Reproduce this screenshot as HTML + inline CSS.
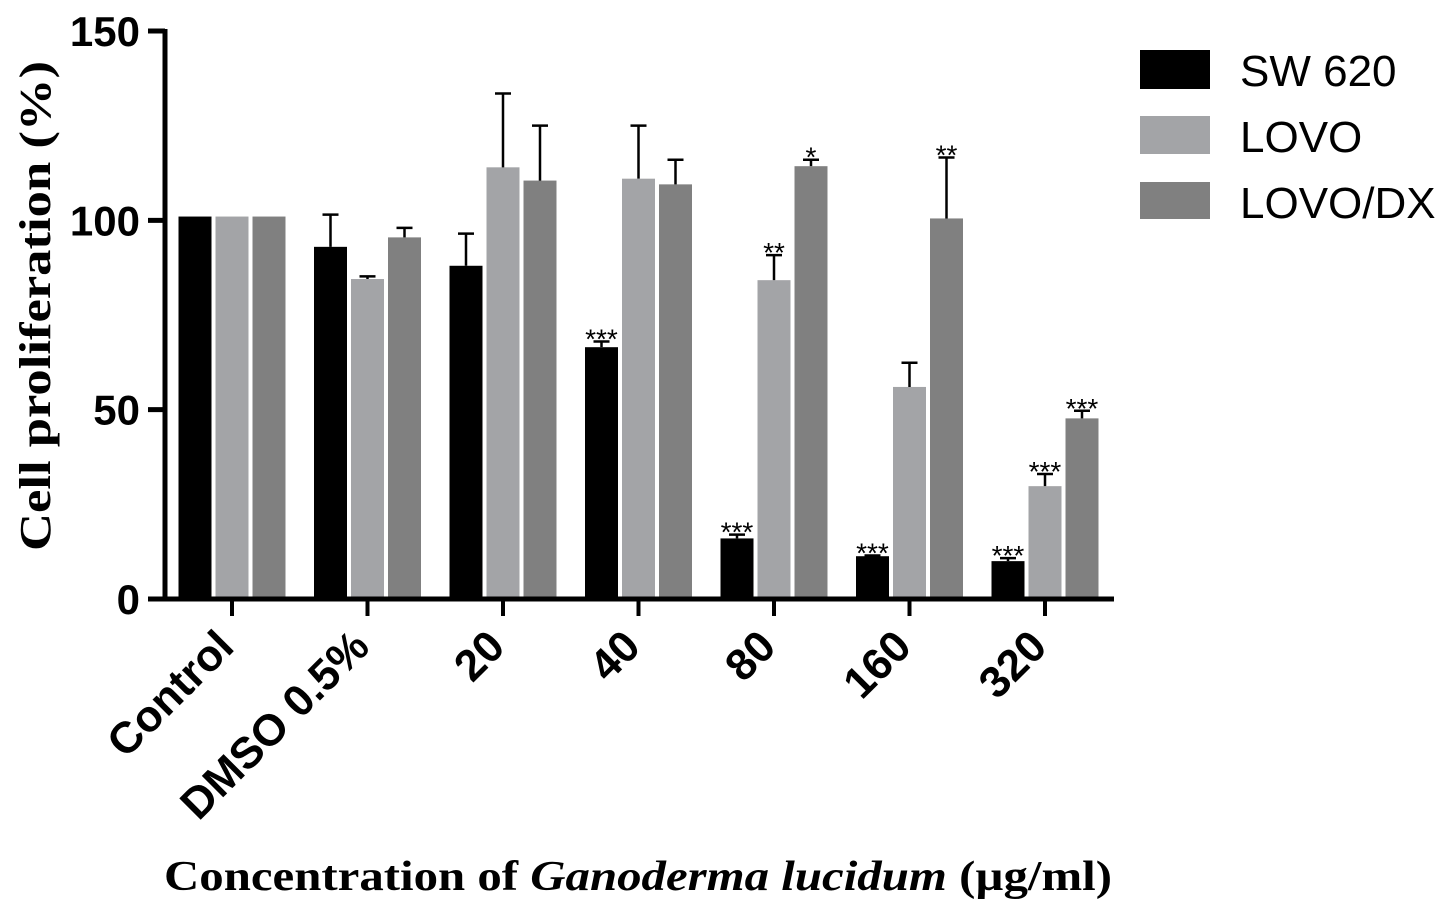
<!DOCTYPE html>
<html><head><meta charset="utf-8"><style>
body{margin:0;background:#fff;}
svg{display:block;}
</style></head><body>
<svg id="chart" width="1451" height="913" viewBox="0 0 1451 913" xmlns="http://www.w3.org/2000/svg">
<g id="bars"></g>
<g id="axes"></g>
<text transform="translate(50,306) rotate(-90)" text-anchor="middle" font-family="Liberation Serif, serif" font-weight="bold" font-size="44" textLength="490" lengthAdjust="spacingAndGlyphs">Cell proliferation (%)</text>
<text x="638" y="890" text-anchor="middle" font-family="Liberation Serif, serif" font-weight="bold" font-size="42" textLength="948" lengthAdjust="spacingAndGlyphs">Concentration of <tspan font-style="italic">Ganoderma lucidum</tspan> (µg/ml)</text>
<g>
<rect x="1140" y="50" width="70" height="39" fill="#000"/>
<text x="1240" y="86" font-family="Liberation Sans, sans-serif" font-size="44">SW 620</text>
<rect x="1140" y="116" width="70" height="38" fill="#a3a4a7"/>
<text x="1240" y="152" font-family="Liberation Sans, sans-serif" font-size="44">LOVO</text>
<rect x="1140" y="182" width="70" height="37" fill="#808080"/>
<text x="1240" y="218" font-family="Liberation Sans, sans-serif" font-size="44">LOVO/DX</text>
</g>
</svg>
<script>
const categories = ["Control","DMSO 0.5%","20","40","80","160","320"];
const sw620 = [101, 93, 88, 66.5, 16, 11.3, 10];
const sw620Err = [0, 101.5, 96.5, 68, 17, 11.5, 10.8];
const lovo = [101, 84.5, 114, 111, 84.2, 56, 29.8];
const lovoErr = [0, 85.2, 133.5, 125, 90.8, 62.4, 33];
const lovoDx = [101, 95.5, 110.5, 109.5, 114.3, 100.5, 47.7];
const lovoDxErr = [0, 98, 125, 116, 116, 116.6, 49.7];
const sw620Sig = ["","","","***","***","***","***"];
const lovoSig = ["","","","","**","","***"];
const lovoDxSig = ["","","","","*","**","***"];
const yTicks = [0, 50, 100, 150];

const NS = "http://www.w3.org/2000/svg";
const y0 = 599, yTop = 31, yMax = 150;
function yScale(v){ return y0 - v * (y0 - yTop) / yMax; }
function xCenter(i){ return 232 + i * 135.5; }
const barW = 33, step = 37;
const series = [
  {name:"sw620", vals:sw620, err:sw620Err, sig:sw620Sig, color:"#000"},
  {name:"lovo", vals:lovo, err:lovoErr, sig:lovoSig, color:"#a3a4a7"},
  {name:"lovo-dx", vals:lovoDx, err:lovoDxErr, sig:lovoDxSig, color:"#808080"}
];
function mk(tag, attrs, parent){
  const e = document.createElementNS(NS, tag);
  for (const k in attrs) e.setAttribute(k, attrs[k]);
  parent.appendChild(e); return e;
}
const bars = document.getElementById('bars');
const axes = document.getElementById('axes');
series.forEach((s, si) => {
  categories.forEach((c, i) => {
    const cx = xCenter(i) + (si - 1) * step;
    const top = yScale(s.vals[i]);
    const r = mk('rect', {x: cx - barW/2, y: top, width: barW, height: y0 - top, fill: s.color}, bars);
    
    
    let labelY = top - 6;
    if (s.err[i] > s.vals[i]) {
      const et = yScale(s.err[i]);
      const l = mk('path', {d: `M${cx} ${top}V${et}M${cx-8} ${et}H${cx+8}`, stroke: '#000', 'stroke-width': 2.5, fill: 'none'}, bars);
      
      
      labelY = et - 6;
    }
    if (s.sig[i]) {
      const t = mk('text', {x: cx, y: labelY + 13, 'text-anchor': 'middle', 'font-family': 'Liberation Sans, sans-serif', 'font-size': 28}, bars);
      t.textContent = s.sig[i];
      
      
    }
  });
});
const ya = mk('path', {d: `M165 ${yTop-2}V${y0+2}`, stroke:'#000', 'stroke-width':5}, axes);


const xa = mk('path', {d: `M163 ${y0}H1114`, stroke:'#000', 'stroke-width':5}, axes);


yTicks.forEach(v => {
  const y = yScale(v);
  const t = mk('path', {d:`M148 ${y}H165`, stroke:'#000', 'stroke-width':5}, axes);
  
  
  const l = mk('text', {x:140, y:y+15, 'text-anchor':'end', 'font-family':'Liberation Sans, sans-serif', 'font-weight':'bold', 'font-size':42}, axes);
  l.textContent = v;
  
  
});
categories.forEach((c, i) => {
  const x = xCenter(i);
  const t = mk('path', {d:`M${x} ${y0}V${y0+17}`, stroke:'#000', 'stroke-width':4}, axes);
  
  
  const l = mk('text', {transform:`translate(${x+4},${y0+50}) rotate(-45)`, 'text-anchor':'end', 'font-family':'Liberation Sans, sans-serif', 'font-weight':'bold', 'font-size':44}, axes);
  l.textContent = c;
  
  
});
</script>
</body></html>
